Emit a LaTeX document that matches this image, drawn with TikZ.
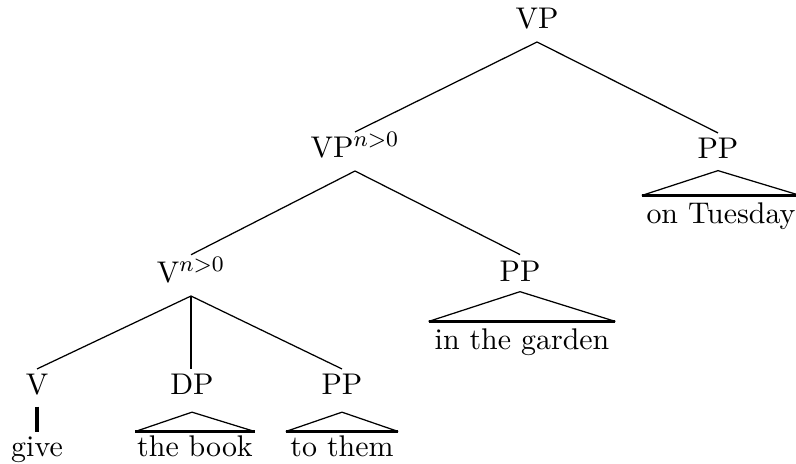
\documentclass[tikz,border=0pt]{standalone}
\begin{document}
\begin{tikzpicture}[x=0.361pt,y=-0.361pt,
  every node/.style={font=\fontsize{10.8}{13}\selectfont},
  cat/.style={inner sep=0pt, anchor=base, text height=9.2pt, text depth=4.5pt},
  phrase/.style={inner ysep=0pt, inner xsep=3pt, anchor=base, text height=10.1pt, text depth=2pt},
  edge/.style={line width=0.45pt},
  roofside/.style={line width=0.45pt},
  roofbase/.style={line width=1.2pt},
  stem/.style={line width=1.2pt}]
\useasboundingbox (0,0) rectangle (796,464);

% category labels
\node[cat] (vp)  at (537,29)  {VP};
\node[cat] (vpn) at (355,158) {VP$^{n>0}$};
\node[cat, text depth=4pt] (ppr) at (718,159) {PP};
\node[cat, text height=10pt] (vn) at (191,283) {V$^{n>0}$};
\node[cat, text height=9.7pt, text depth=3.3pt] (ppm) at (520,282) {PP};
\node[cat, text depth=4pt] (v)   at (37,395)  {V};
\node[cat, text depth=6pt] (dp)  at (192,395) {DP};
\node[cat, text depth=6pt] (ppb) at (342,395) {PP};

% terminal strings
\node[cat, text height=8.7pt, text depth=2pt] (give) at (37,457) {give};
\node[phrase, inner xsep=0.5pt, text height=9pt] (book) at (195,457) {the book};
\node[phrase, inner xsep=1.5pt, text height=9pt] (them) at (342,457) {to them};
\node[phrase, inner xsep=2pt] (garden)  at (522,350) {in the garden};
\node[phrase, inner xsep=1.5pt] (tuesday) at (721,224) {on Tuesday};

% branches
\draw[edge] (vp.south)  -- (vpn.north);
\draw[edge] (vp.south)  -- (ppr.north);
\draw[edge] (vpn.south) -- (vn.north);
\draw[edge] (vpn.south) -- (ppm.north);
\draw[edge] (vn.south)  -- (v.north);
\draw[edge] (vn.south)  -- (vn.south |- dp.north);
\draw[edge] (vn.south)  -- (ppb.north);
\draw[stem] (v.south)   -- (give.north);

% roofs over unanalysed phrases
\foreach \p/\t in {ppr/tuesday, ppm/garden, dp/book, ppb/them}{
  \draw[roofside] (\t.north west) -- (\p.south) -- (\t.north east);
  \draw[roofbase] (\t.north west) -- (\t.north east);
}
\end{tikzpicture}
\end{document}
